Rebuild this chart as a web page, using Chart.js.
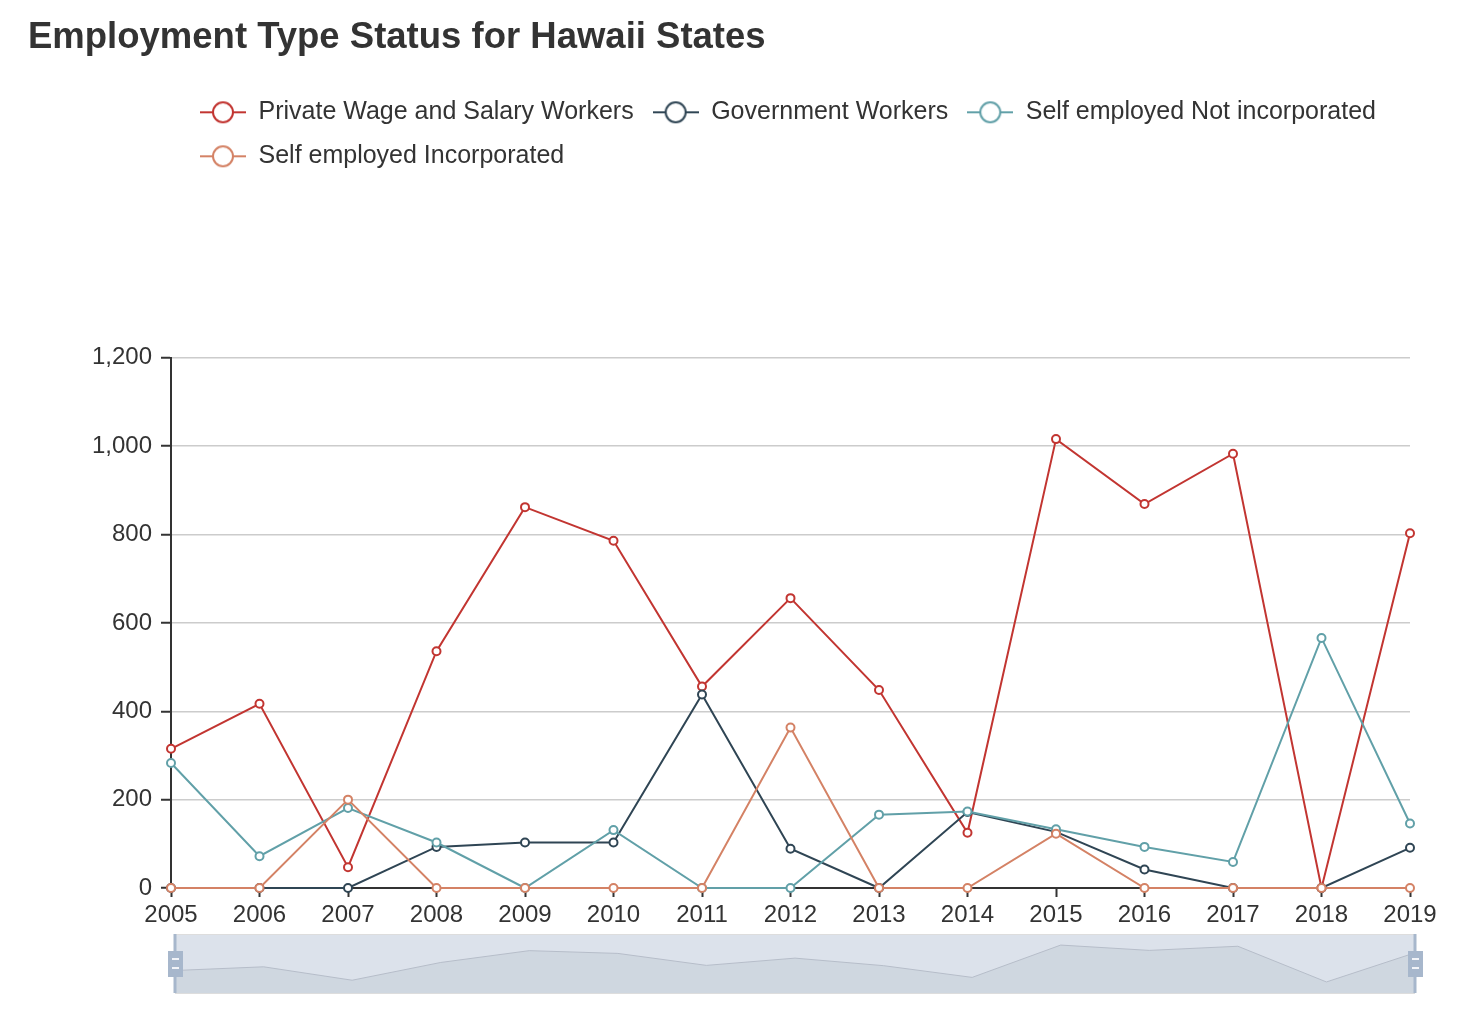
<!DOCTYPE html>
<html>
<head>
<meta charset="utf-8">
<script src="https://cdn.jsdelivr.net/npm/chart.js@4.4.1/dist/chart.umd.min.js"></script>
<style>
html, body { margin: 0; padding: 0; background: #ffffff; }
#wrap { position: relative; width: 1468px; height: 1018px; overflow: hidden; }
#main { position: absolute; left: 0; top: 0; }
#zoom { position: absolute; left: 150px; top: 926px; }
</style>
</head>
<body>
<div id="wrap">
  <canvas id="main" width="1468" height="1018"></canvas>
  <canvas id="zoom" width="1290" height="76"></canvas>
</div>
<script>
// ---- data ----
const chartTitle = 'Employment Type Status for Hawaii States';
const years = ['2005','2006','2007','2008','2009','2010','2011','2012','2013','2014','2015','2016','2017','2018','2019'];
const seriesNames = ['Private Wage and Salary Workers', 'Government Workers', 'Self employed Not incorporated', 'Self employed Incorporated'];
const privateWorkers    = [315, 417, 47, 536, 862, 786, 456, 656, 448, 125, 1016, 869, 983, 0, 803];
const governmentWorkers = [0, 0, 0, 93, 103, 103, 438, 89, 0, 172, 127, 42, 0, 0, 91];
const selfNotIncorp     = [283, 72, 181, 103, 0, 131, 0, 0, 166, 173, 133, 93, 59, 566, 146];
const selfIncorp        = [0, 0, 200, 0, 0, 0, 0, 363, 0, 0, 123, 0, 0, 0, 0];
const yTicksMax = 1200;
const yTickStep = 200;

// ---- styles ----
const FONT = '"Liberation Sans", Arial, Helvetica, sans-serif';
const colors = ['#c23531', '#2f4554', '#61a0a8', '#d48265'];
const seriesData = [privateWorkers, governmentWorkers, selfNotIncorp, selfIncorp];

function makeIcon(color) {
  const c = document.createElement('canvas');
  c.width = 46; c.height = 26;
  const g = c.getContext('2d');
  g.strokeStyle = color;
  g.lineWidth = 2;
  g.beginPath(); g.moveTo(0, 13); g.lineTo(46, 13); g.stroke();
  g.beginPath(); g.arc(23, 13, 10, 0, Math.PI * 2);
  g.fillStyle = '#ffffff'; g.fill(); g.stroke();
  return c;
}
const icons = colors.map(makeIcon);

const datasets = seriesNames.map((name, i) => ({
  label: name,
  data: seriesData[i],
  borderColor: colors[i],
  backgroundColor: colors[i],
  borderWidth: 2,
  tension: 0,
  pointRadius: 4,
  pointHoverRadius: 4,
  pointBorderWidth: 2,
  pointBackgroundColor: '#ffffff',
  pointBorderColor: colors[i],
  clip: false,
  order: seriesNames.length - 1 - i
}));

const legendShift = {
  id: 'legendShift',
  afterLayout(chart) {
    const lg = chart.legend;
    if (!lg) return;
    const pad = lg.options.labels.padding;
    const dx = 200 - (lg.left + pad);
    lg.left += dx; lg.right += dx;
  }
};

new Chart(document.getElementById('main'), {
  type: 'line',
  data: { labels: years, datasets },
  options: {
    responsive: false,
    animation: false,
    devicePixelRatio: 1,
    layout: { padding: { left: 28, right: 58, top: 0, bottom: 90 } },
    plugins: {
      title: {
        display: true, text: chartTitle, align: 'start', color: '#333',
        font: { size: 36.5, weight: 'bold', family: FONT },
        padding: { top: 16, bottom: 21 }
      },
      subtitle: {
        display: true, text: '', position: 'top', weight: 500,
        font: { size: 10, family: FONT }, padding: { top: 167, bottom: 0 }
      },
      legend: {
        position: 'top', align: 'start',
        labels: {
          usePointStyle: true, pointStyleWidth: 46, padding: 19, color: '#333',
          font: { size: 25, family: FONT },
          sort: (a, b) => a.datasetIndex - b.datasetIndex,
          generateLabels(chart) {
            const items = Chart.defaults.plugins.legend.labels.generateLabels(chart);
            items.forEach(it => { it.pointStyle = icons[it.datasetIndex]; });
            return items;
          }
        }
      },
      tooltip: { enabled: false }
    },
    scales: {
      x: {
        type: 'category', offset: false,
        grid: { drawOnChartArea: false, drawTicks: true, tickLength: 9, tickColor: '#333', tickWidth: 2 },
        border: { color: '#333', width: 2 },
        ticks: { color: '#333', font: { size: 24, family: FONT }, padding: 4, maxRotation: 0, autoSkip: false },
        afterFit(s) { s.height = 40; }
      },
      y: {
        min: 0, max: yTicksMax,
        ticks: { stepSize: yTickStep, color: '#333', font: { size: 24, family: FONT }, padding: 9,
                 callback: v => Number(v).toLocaleString('en-US') },
        grid: { color: ctx => (ctx.tick && ctx.tick.value === 0) ? 'rgba(0,0,0,0)' : '#cccccc',
                lineWidth: 1.5, tickColor: '#333', tickLength: 10, tickWidth: 2 },
        border: { color: '#333', width: 2 },
        afterFit(s) { s.width = 143; }
      }
    }
  },
  plugins: [legendShift]
});

// ---- data zoom slider (shadow of first series) ----
const shadowMin = Math.min(...privateWorkers);
const shadowMax = Math.max(...privateWorkers);
const shadowPad = (shadowMax - shadowMin) * 0.3;

const sliderDeco = {
  id: 'sliderDeco',
  beforeDatasetsDraw(chart) {
    const { ctx, chartArea: a } = chart;
    ctx.save();
    ctx.fillStyle = '#dce2eb';
    ctx.fillRect(a.left, a.top, a.right - a.left, a.bottom - a.top);
    ctx.restore();
  },
  afterDraw(chart) {
    const { ctx, chartArea: a } = chart;
    ctx.save();
    ctx.strokeStyle = '#dddddd';
    ctx.lineWidth = 1;
    ctx.strokeRect(a.left + 0.5, a.top + 0.5, a.right - a.left - 1, a.bottom - a.top);
    [a.left, a.right].forEach(x => {
      ctx.fillStyle = '#a7b7cc';
      ctx.fillRect(x - 1.5, a.top, 3, a.bottom - a.top);
      ctx.fillRect(x - 7, a.top + 17, 15, 26);
      ctx.fillStyle = 'rgba(255,255,255,0.85)';
      ctx.fillRect(x - 3, a.top + 24, 7, 2);
      ctx.fillRect(x - 3, a.top + 33, 7, 2);
    });
    ctx.restore();
  }
};

new Chart(document.getElementById('zoom'), {
  type: 'line',
  data: {
    labels: years,
    datasets: [{
      data: privateWorkers,
      borderColor: '#b6bdc9',
      borderWidth: 1,
      backgroundColor: 'rgba(47,69,84,0.07)',
      fill: 'start',
      pointRadius: 0,
      tension: 0
    }]
  },
  options: {
    responsive: false,
    animation: false,
    devicePixelRatio: 1,
    layout: { padding: { left: 25, right: 25, top: 8, bottom: 9 } },
    plugins: { legend: { display: false }, tooltip: { enabled: false }, title: { display: false } },
    scales: {
      x: { display: false, offset: false },
      y: { display: false, min: shadowMin - shadowPad, max: shadowMax + shadowPad }
    }
  },
  plugins: [sliderDeco]
});
</script>
</body>
</html>
